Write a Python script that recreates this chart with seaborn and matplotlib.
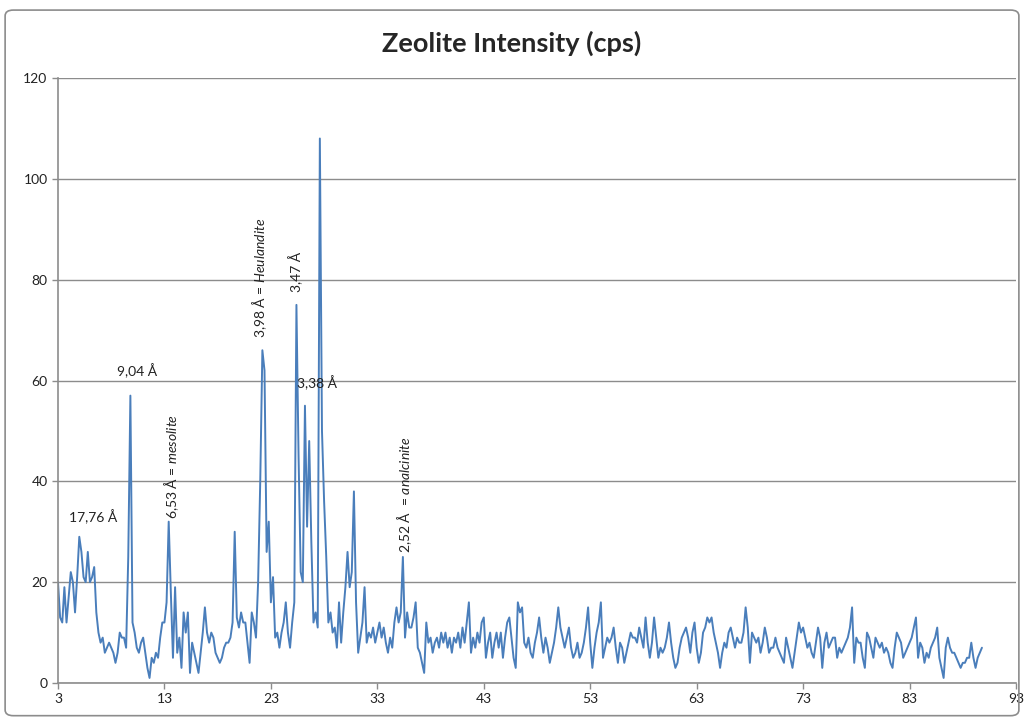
import numpy as np
import pandas as pd
import seaborn as sns
import matplotlib.pyplot as plt
from matplotlib.patches import FancyBboxPatch

# 2-theta scan, step 0.2 deg starting at 3 deg
start_angle = 3.0
step = 0.2
intensity = [
    20, 13, 12, 19, 12, 17, 22, 20, 14, 21,   # 3
    29, 26, 21, 20, 26, 20, 21, 23, 14, 10,   # 5
    8, 9, 6, 7, 8, 7, 6, 4, 6, 10,            # 7
    9, 9, 7, 25, 57, 12, 10, 7, 6, 8,         # 9
    9, 6, 3, 1, 5, 4, 6, 5, 9, 12,            # 11
    12, 16, 32, 18, 5, 19, 6, 9, 3, 14,       # 13
    10, 14, 2, 8, 6, 4, 2, 6, 10, 15,         # 15
    10, 8, 10, 9, 6, 5, 4, 5, 7, 8,           # 17
    8, 9, 12, 30, 13, 11, 14, 12, 12, 8,      # 19
    4, 14, 12, 9, 20, 40, 66, 62, 26, 32,     # 21
    16, 21, 9, 10, 7, 10, 12, 16, 10, 7,      # 23
    12, 16, 75, 45, 22, 20, 55, 31, 48, 28,   # 25
    12, 14, 11, 108, 50, 36, 25, 12, 14, 10,  # 27
    11, 7, 16, 8, 14, 19, 26, 19, 22, 38,     # 29
    16, 6, 9, 12, 19, 8, 10, 9, 11, 8,        # 31
    10, 12, 9, 11, 8, 6, 9, 7, 12, 15,        # 33
    12, 14, 25, 9, 14, 11, 11, 13, 16, 7,     # 35
    6, 4, 2, 12, 8, 9, 6, 8, 9, 7,            # 37
    10, 8, 10, 7, 9, 6, 9, 8, 10, 7,          # 39
    11, 8, 12, 16, 6, 9, 7, 10, 8, 12,        # 41
    13, 5, 8, 10, 5, 8, 10, 7, 10, 5,         # 43
    9, 12, 13, 9, 5, 3, 16, 14, 15, 8,        # 45
    7, 9, 6, 5, 8, 10, 13, 9, 6, 9,           # 47
    7, 4, 6, 8, 11, 15, 11, 9, 7, 9,          # 49
    11, 7, 5, 6, 8, 5, 6, 8, 11, 15,          # 51
    8, 3, 7, 10, 12, 16, 5, 7, 9, 8,          # 53
    9, 11, 7, 4, 8, 7, 4, 6, 8, 10,           # 55
    9, 9, 8, 11, 9, 7, 13, 8, 5, 8,           # 57
    13, 9, 5, 7, 6, 7, 9, 12, 8, 5,           # 59
    3, 4, 7, 9, 10, 11, 9, 6, 10, 12,         # 61
    7, 4, 6, 10, 11, 13, 12, 13, 10, 8,       # 63
    6, 3, 6, 8, 7, 10, 11, 9, 7, 9,           # 65
    8, 8, 10, 15, 11, 4, 10, 9, 8, 9,         # 67
    6, 8, 11, 9, 6, 7, 7, 9, 7, 6,            # 69
    5, 4, 9, 7, 5, 3, 6, 9, 12, 10,           # 71
    11, 9, 7, 8, 6, 5, 8, 11, 9, 3,           # 73
    8, 10, 7, 8, 9, 9, 5, 7, 6, 7,            # 75
    8, 9, 11, 15, 4, 9, 8, 8, 5, 3,           # 77
    10, 9, 7, 5, 9, 8, 7, 8, 6, 7,            # 79
    6, 4, 3, 7, 10, 9, 8, 5, 6, 7,            # 81
    8, 9, 11, 13, 5, 8, 7, 4, 6, 5,           # 83
    7, 8, 9, 11, 5, 3, 1, 7, 9, 7,            # 85
    6, 6, 5, 4, 3, 4, 4, 5, 5, 8,             # 87
    5, 3, 5, 6, 7,                            # 89
]

# peak labels: (text, 2theta, intensity, rotation)
labels = [
    ("17,76 Å", 6.3, 31.5, 0),
    ("9,04 Å", 10.4, 60.5, 0),
    (r"6,53 Å = $\mathit{mesolite}$", 13.7, 32.5, 90),
    (r"3,98 Å = $\mathit{Heulandite}$", 21.9, 68.5, 90),
    ("3,47 Å", 25.3, 77.5, 90),
    ("3,38 Å", 27.3, 58.0, 0),
    (r"2,52 Å  = $\mathit{analcinite}$", 35.6, 25.8, 90),
]

df = pd.DataFrame({"two_theta": start_angle + step * np.arange(len(intensity)),
                   "cps": intensity})

sns.set_theme(style="white")
plt.rcParams['font.family'] = ['Lato', 'DejaVu Sans']
plt.rcParams['mathtext.fontset'] = 'custom'
plt.rcParams['mathtext.rm'] = 'Lato'
plt.rcParams['mathtext.it'] = 'Lato:italic'

fig, ax = plt.subplots(figsize=(10.24, 7.2), dpi=100)
fig.subplots_adjust(left=58/1024, right=1016/1024, top=1-78/720, bottom=1-683/720)

sns.lineplot(data=df, x="two_theta", y="cps", ax=ax, color="#4a7ebb", linewidth=1.4)

ax.set_xlim(3, 93)
ax.set_ylim(0, 120)
ax.set_xticks(np.arange(3, 94, 10))
ax.set_yticks(np.arange(0, 121, 20))
ax.yaxis.grid(True, color="#8c8c8c", linewidth=1)
ax.set_axisbelow(True)
ax.set_xlabel("")
ax.set_ylabel("")
ax.tick_params(axis="both", labelsize=10, colors="#222222", length=4, width=1,
               direction="out", bottom=True, left=True)
ax.tick_params(axis="both", color="#8c8c8c")
for side in ["top", "right"]:
    ax.spines[side].set_visible(False)
for side in ["left", "bottom"]:
    ax.spines[side].set_color("#8c8c8c")
    ax.spines[side].set_linewidth(1.2)

for text, x, y, rot in labels:
    ax.text(x, y, text, ha="center", va="bottom", rotation=rot, fontsize=10,
            color="#222222")

fig.suptitle("Zeolite Intensity (cps)", y=0.957, fontsize=19.5, fontweight="bold")

border = FancyBboxPatch((0.005, 0.006), 0.99, 0.98, boxstyle="round,pad=0,rounding_size=0.008",
                        transform=fig.transFigure, fill=False, edgecolor="#8c8c8c", linewidth=1.2)
fig.patches.append(border)

plt.savefig("out.png", dpi=100)
